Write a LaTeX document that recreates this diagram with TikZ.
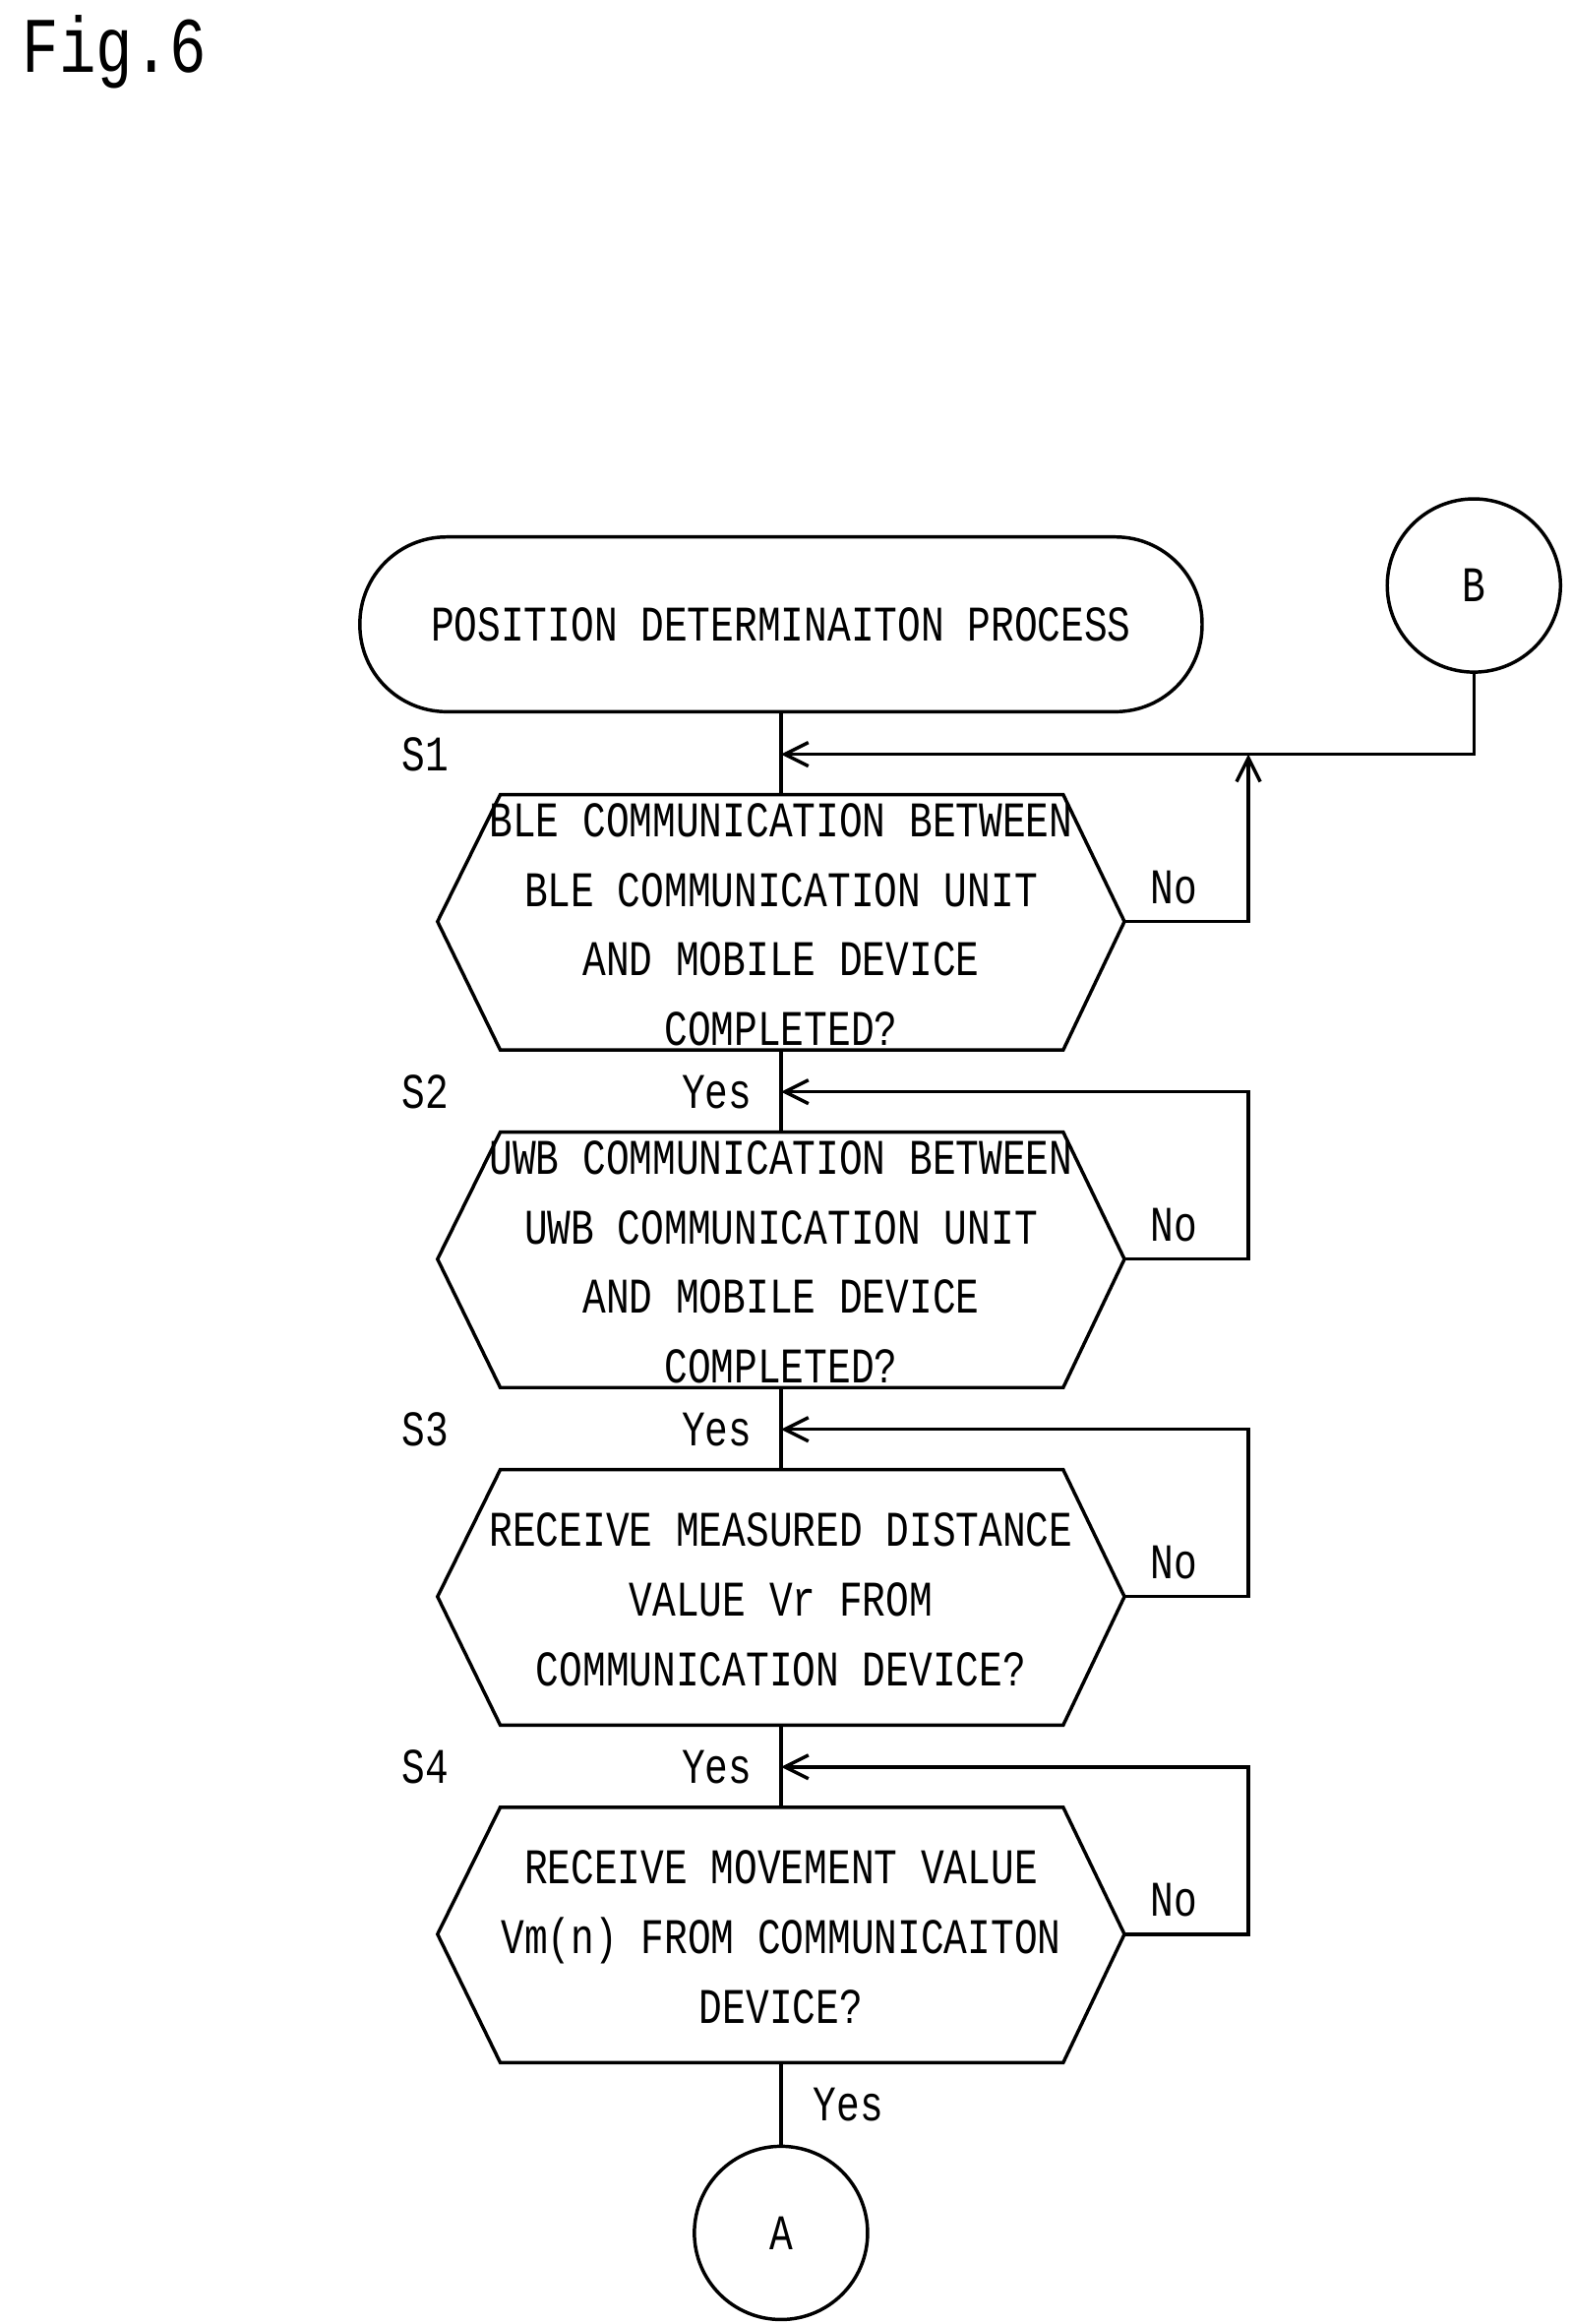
\documentclass[tikz,border=0pt]{standalone}
\usepackage{fontspec}
\newfontfamily\jfont[FakeStretch=0.78]{Liberation Mono}
\usetikzlibrary{arrows.meta}
\begin{document}
\begin{tikzpicture}[x=0.02cm,y=-0.02cm,
  line width=1.3pt,
  txt/.style={font=\jfont\fontsize{19}{21.5}\selectfont,align=center,inner sep=0pt},
  arr/.style={-{Straight Barb[length=9pt,width=9pt]}},
  circ/.style={draw,circle,minimum size=116*0.02cm,inner sep=0pt,font=\jfont\fontsize{19}{22}\selectfont}]
\useasboundingbox (0,0) rectangle (1052,1556);
\node[anchor=west,font=\jfont\fontsize{30}{32}\selectfont] (fig) at (8,35) {Fig.6};
\node[draw,rounded corners=58*0.02cm,minimum width=564*0.02cm,minimum height=117*0.02cm,txt] (start) at (523,418) {POSITION DETERMINAITON PROCESS};
\node[circ] (B) at (987,392) {B};
\node[circ] (A) at (523,1495) {A};
% hexagons
\foreach \n/\c in {1/617,2/843,3/1069,4/1295}{
  \draw (293,\c) -- (335,\c-85) -- (712,\c-85) -- (753,\c) -- (712,\c+86) -- (335,\c+86) -- cycle;
  \coordinate (h\n t) at (523,\c-85);
  \coordinate (h\n b) at (523,\c+86);
  \coordinate (h\n r) at (753,\c);
  \coordinate (j\n) at (523,\c-112);
  \coordinate (c\n) at (836,\c-112);
  \node[txt] at (786,\c-23) {No};
  \node[txt] at (285,\c-112) {S\n};
}
\node[txt] at (523,619) {BLE COMMUNICATION BETWEEN\\[5pt]BLE COMMUNICATION UNIT\\[5pt]AND MOBILE DEVICE\\[5pt]COMPLETED?};
\node[txt] at (523,845) {UWB COMMUNICATION BETWEEN\\[5pt]UWB COMMUNICATION UNIT\\[5pt]AND MOBILE DEVICE\\[5pt]COMPLETED?};
\node[txt] at (523,1071) {RECEIVE MEASURED DISTANCE\\[5pt]VALUE Vr FROM\\[5pt]COMMUNICATION DEVICE?};
\node[txt] at (523,1297) {RECEIVE MOVEMENT VALUE\\[5pt]Vm(n) FROM COMMUNICAITON\\[5pt]DEVICE?};
\node[txt] at (480,731) {Yes};
\node[txt] at (480,957) {Yes};
\node[txt] at (480,1183) {Yes};
\node[txt] at (568,1409) {Yes};
% main line
\draw (start.south) -- (h1t);
\draw (h1b) -- (h2t);
\draw (h2b) -- (h3t);
\draw (h3b) -- (h4t);
\draw (h4b) -- (A.north);
% B return
\draw[arr] (B.south) |- (j1);
\draw[arr] (h1r) -| (c1);
\foreach \n in {2,3,4}{
  \draw[arr] (h\n r) -| (c\n) -- (j\n);
}
\end{tikzpicture}
\end{document}
